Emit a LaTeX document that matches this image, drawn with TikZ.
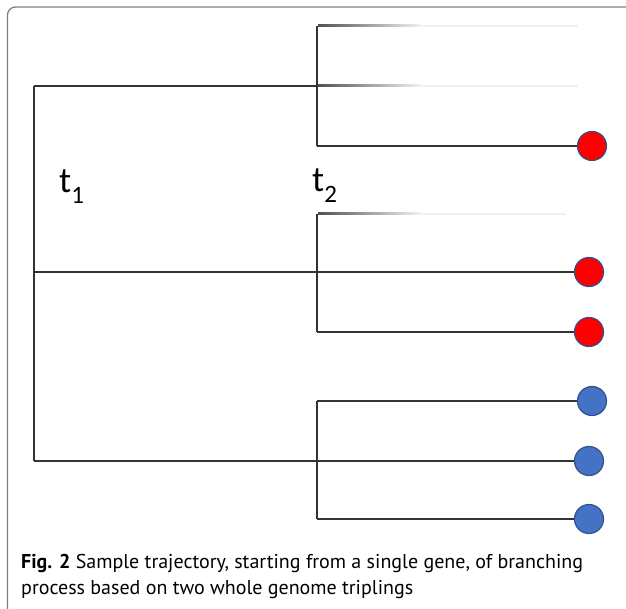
\documentclass[tikz,border=0pt]{standalone}
\usepackage{fontspec}
\setmainfont{Carlito}
\newfontfamily\capfont{PT Sans}
\definecolor{leafred}{HTML}{FF0000}
\definecolor{leafblue}{HTML}{4472C4}
\definecolor{rimblue}{HTML}{2F528F}
\definecolor{edgegray}{HTML}{333333}
\definecolor{framegray}{HTML}{7F7F7F}
\newcommand{\tlabel}[1]{t\raisebox{-0.28em}{\fontsize{25}{25}\selectfont #1}}
\begin{document}
\begin{tikzpicture}[x=1pt,y=-1pt,
  branch/.style={draw=edgegray, line width=1.3pt},
  leaf/.style={circle, minimum size=29pt, inner sep=0pt, line width=1.2pt, draw=rimblue},
  redleaf/.style={leaf, fill=leafred},
  blueleaf/.style={leaf, fill=leafblue},
  timelabel/.style={anchor=base west, inner sep=0pt, font=\fontsize{36}{36}\selectfont},
  captext/.style={anchor=base west, inner sep=0pt, font=\capfont\fontsize{20}{26}\selectfont}
]
\useasboundingbox (0,0) rectangle (626,609);

% panel frame (open on the right and bottom)
\draw[framegray, line width=1.3pt, rounded corners=8pt] (7.5,609) -- (7.5,7) -- (626,7);

% first split
\coordinate (r1) at (34,86);
\coordinate (r2) at (34,272);
\coordinate (r3) at (34,461);
\draw[branch] (r1) -- (r3);

% second splits
\coordinate (a1) at (317,26);
\coordinate (a2) at (317,86);
\coordinate (a3) at (317,146);
\coordinate (b1) at (317,214);
\coordinate (b2) at (317,272);
\coordinate (b3) at (317,332);
\coordinate (c1) at (317,401);
\coordinate (c2) at (317,461);
\coordinate (c3) at (317,519);
\draw[branch] (a1) -- (a3);
\draw[branch] (b1) -- (b3);
\draw[branch] (c1) -- (c3);
\draw[branch] (r1) -- (a2);
\draw[branch] (r3) -- (c2);

% surviving copies
\node[redleaf]  (la3) at (592,146) {};
\node[redleaf]  (lb2) at (589,272) {};
\node[redleaf]  (lb3) at (589,332) {};
\node[blueleaf] (lc1) at (592,401) {};
\node[blueleaf] (lc2) at (589,461) {};
\node[blueleaf] (lc3) at (589,519) {};
\draw[branch] (a3) -- (la3);
\draw[branch] (r2) -- (lb2);
\draw[branch] (b3) -- (lb3);
\draw[branch] (c1) -- (lc1);
\draw[branch] (c2) -- (lc2);
\draw[branch] (c3) -- (lc3);

% lost copies: lines fading out
\foreach \y/\e in {26/578, 86/578, 214/566}{
  \shade[left color=edgegray!85, right color=black!6] (318,\y-1) rectangle (420,\y+1);
  \fill[black!6] (420,\y-1) rectangle (\e,\y+1);
}

% time labels
\node[timelabel] (t1) at (59,193) {\tlabel{1}};
\node[timelabel] (t2) at (312,192) {\tlabel{2}};

% caption
\node[captext] (cap1) at (21,568) {\textbf{Fig. 2} Sample trajectory, starting from a single gene, of branching};
\node[captext] (cap2) at (21,594) {process based on two whole genome triplings};
\end{tikzpicture}
\end{document}
